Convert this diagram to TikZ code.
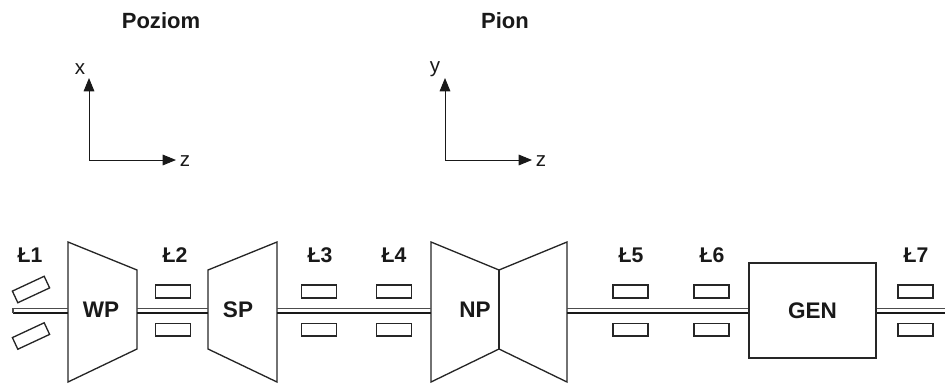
\documentclass[tikz,border=0pt]{standalone}
\usepackage{fontspec}
\setmainfont{Liberation Sans}
\usepackage{tikz}
\usetikzlibrary{arrows.meta, positioning}

\begin{document}
\begin{tikzpicture}[
 x=0.0265cm,y=-0.0265cm,
 node distance=0.635cm,
 bearing/.style={rectangle,draw=black!85,line width=1pt,inner sep=0pt,
   minimum width=0.93cm,minimum height=0.34cm},
 machine/.style={draw=black!85,line width=1pt,line join=miter},
 shafttop/.style={draw=black!90,line width=1.2pt},
 shaftbot/.style={draw=black!70,line width=0.9pt},
 axis/.style={-{Triangle[length=10pt,width=8pt]},draw=black!90,line width=0.7pt},
 bearinglabel/.style={font=\bfseries\fontsize{16}{18}\selectfont,text=black!90,inner sep=0pt},
 machinelabel/.style={font=\bfseries\fontsize{17}{19}\selectfont,text=black!90,inner sep=0pt},
 titlelabel/.style={font=\bfseries\fontsize{16.6}{18}\selectfont,text=black!90,inner sep=0pt},
 axislabel/.style={font=\fontsize{15.5}{17}\selectfont,text=black!90,inner sep=0pt}]
 \useasboundingbox (0,0) rectangle (945,383);
 % titles and axes
 \node[titlelabel] (poziom) at (161,21) {Poziom};
 \node[titlelabel] (pion) at (505,21) {Pion};
 \coordinate (o1) at (89,160);
 \coordinate (o2) at (445,160);
 \coordinate (x1) at (89,78);
 \coordinate (z1) at (176,160);
 \coordinate (y2) at (445,78);
 \coordinate (z2) at (532,160);
 \node[axislabel] (xlab) at (80,69) {x};
 \node[axislabel] (zlab1) at (185,161) {z};
 \node[axislabel] (ylab) at (435,69) {y};
 \node[axislabel] (zlab2) at (541,161) {z};
 \draw[axis] (o1) -- (x1);
 \draw[axis] (o1) -- (z1);
 \draw[axis] (o2) -- (y2);
 \draw[axis] (o2) -- (z2);
 % machines
 \coordinate (wpl) at (68,310.5);
 \coordinate (wpr) at (137,310.5);
 \coordinate (spl) at (208,310.5);
 \coordinate (spr) at (277,310.5);
 \coordinate (npl) at (431,310.5);
 \coordinate (npr) at (567,310.5);
 \coordinate (start) at (13,310.5);
 \coordinate (stop) at (945,310.5);
 \draw[machine] (68,242) -- (137,270) -- (137,349) -- (68,382) -- cycle;
 \draw[machine] (208,270) -- (277,242) -- (277,382) -- (208,349) -- cycle;
 \draw[machine] (431,242) -- (499,270) -- (567,242) -- (567,382) -- (499,349) -- (431,382) -- cycle;
 \draw[machine] (499,270) -- (499,349);
 \node[rectangle,draw=black!85,line width=1pt,minimum width=3.36cm,minimum height=2.52cm,
   inner sep=0pt,machinelabel] (gen) at (812.5,310.5) {GEN};
 \node[machinelabel] (wp) at (101,310) {WP};
 \node[machinelabel] (sp) at (238,310) {SP};
 \node[machinelabel] (np) at (475,310) {NP};
 % shaft
 \draw[shafttop] ([yshift=-1.8pt]start) -- ([yshift=-1.8pt]wpl);
 \draw[shaftbot] ([yshift=1.8pt]start) -- ([yshift=1.8pt]wpl);
 \draw[shaftbot] ([yshift=-1.8pt]start) -- ([yshift=1.8pt]start);
 \draw[shafttop] ([yshift=-1.8pt]wpr) -- ([yshift=-1.8pt]spl);
 \draw[shaftbot] ([yshift=1.8pt]wpr) -- ([yshift=1.8pt]spl);
 \draw[shafttop] ([yshift=-1.8pt]spr) -- ([yshift=-1.8pt]npl);
 \draw[shaftbot] ([yshift=1.8pt]spr) -- ([yshift=1.8pt]npl);
 \draw[shafttop] ([yshift=-1.8pt]npr) -- ([yshift=-1.8pt]gen.west);
 \draw[shaftbot] ([yshift=1.8pt]npr) -- ([yshift=1.8pt]gen.west);
 \draw[shafttop] ([yshift=-1.8pt]gen.east) -- ([yshift=-1.8pt]stop);
 \draw[shaftbot] ([yshift=1.8pt]gen.east) -- ([yshift=1.8pt]stop);
 % bearings
 \node[bearing,rotate=25] (l1t) at (31,289.5) {};
 \node[bearing,rotate=25] (l1b) at (31,336) {};
 \node[bearing] (l2t) at (173,291.5) {};
 \node[bearing,below=of l2t] (l2b) {};
 \node[bearing] (l3t) at (319,291.5) {};
 \node[bearing,below=of l3t] (l3b) {};
 \node[bearing] (l4t) at (394,291.5) {};
 \node[bearing,below=of l4t] (l4b) {};
 \node[bearing] (l5t) at (630.5,291.5) {};
 \node[bearing,below=of l5t] (l5b) {};
 \node[bearing] (l6t) at (711.5,291.5) {};
 \node[bearing,below=of l6t] (l6b) {};
 \node[bearing] (l7t) at (915.5,291.5) {};
 \node[bearing,below=of l7t] (l7b) {};
 \node[bearinglabel] (l1) at (30,255) {Ł1};
 \node[bearinglabel] (l2) at (175,255) {Ł2};
 \node[bearinglabel] (l3) at (320,255) {Ł3};
 \node[bearinglabel] (l4) at (394,255) {Ł4};
 \node[bearinglabel] (l5) at (631,255) {Ł5};
 \node[bearinglabel] (l6) at (712,255) {Ł6};
 \node[bearinglabel] (l7) at (916,255) {Ł7};
\end{tikzpicture}
\end{document}
